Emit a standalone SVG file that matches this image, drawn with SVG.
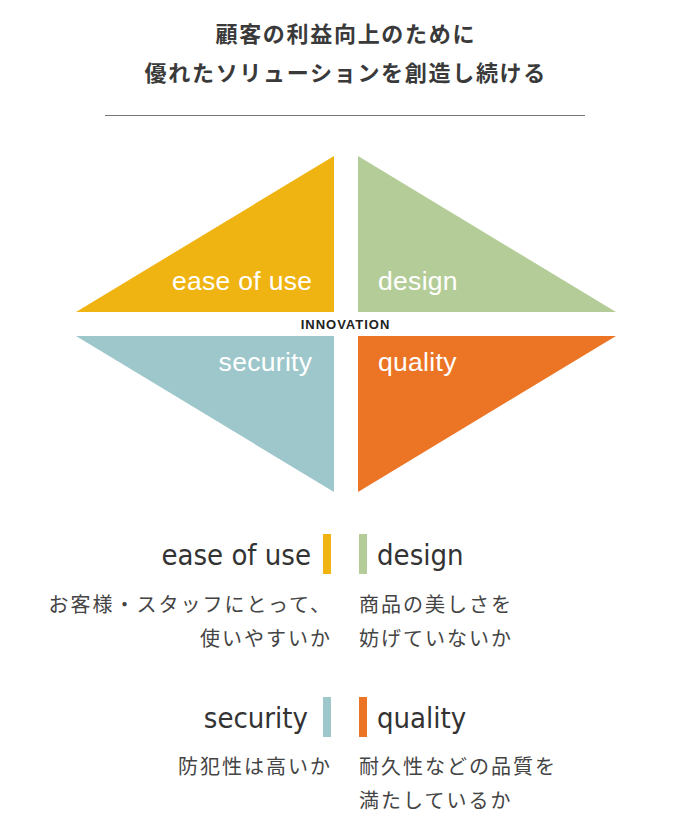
<svg xmlns="http://www.w3.org/2000/svg" width="690" height="837" viewBox="0 0 690 837">
<style>
.title{font-family:"Noto Sans CJK JP","Noto Sans",sans-serif;font-size:22px;font-weight:bold;fill:#3a3a3a;text-anchor:middle;letter-spacing:1.7px}
.tri{font-family:"Liberation Sans",Arial,sans-serif;font-size:26.5px;fill:#fff;letter-spacing:0.3px}
.inn{font-family:"Liberation Sans",Arial,sans-serif;font-size:13px;font-weight:bold;fill:#222;text-anchor:middle;letter-spacing:1px}
.head{font-family:"DejaVu Sans Condensed","Open Sans",sans-serif;font-size:29px;fill:#333}
.desc{font-family:"Noto Sans CJK JP","Noto Sans",sans-serif;font-size:20px;fill:#444;letter-spacing:2px}
.r{text-anchor:end}
</style>
<rect width="690" height="837" fill="#fff"/>
<g id="title">
<text class="title" x="345.8" y="42">顧客の利益向上のために</text>
<text class="title" x="345.8" y="81">優れたソリューションを創造し続ける</text>
<line x1="105" y1="115.5" x2="585" y2="115.5" stroke="#777" stroke-width="1"/>
</g>
<g id="ease-tri">
<polygon points="76,312 334,156 334,312" fill="#F0B412"/>
<text class="tri r" x="312.3" y="290">ease of use</text>
</g>
<g id="design-tri">
<polygon points="358,156 616,312 358,312" fill="#B4CD98"/>
<text class="tri" x="378" y="290">design</text>
</g>
<g id="security-tri">
<polygon points="76,336 334,336 334,492" fill="#9EC7CB"/>
<text class="tri r" x="312.3" y="371">security</text>
</g>
<g id="quality-tri">
<polygon points="358,336 616,336 358,492" fill="#EB7425"/>
<text class="tri" x="378" y="371">quality</text>
</g>
<g id="innovation">
<text class="inn" x="345.5" y="329">INNOVATION</text>
</g>
<g id="ease">
<text class="head r" x="311" y="565">ease of use</text>
<rect x="323" y="534" width="8" height="40" fill="#F0B412"/>
<text class="desc r" x="332" y="612">お客様・スタッフにとって、</text>
<text class="desc r" x="332" y="646">使いやすいか</text>
</g>
<g id="design">
<rect x="359" y="534" width="8" height="40" fill="#B4CD98"/>
<text class="head" x="377" y="565">design</text>
<text class="desc" x="359" y="612">商品の美しさを</text>
<text class="desc" x="359" y="646">妨げていないか</text>
</g>
<g id="security">
<text class="head r" x="308" y="728">security</text>
<rect x="323" y="697" width="8" height="40" fill="#9EC7CB"/>
<text class="desc r" x="332" y="774">防犯性は高いか</text>
</g>
<g id="quality">
<rect x="359" y="697" width="8" height="40" fill="#EB7425"/>
<text class="head" x="377" y="728">quality</text>
<text class="desc" x="359" y="774">耐久性などの品質を</text>
<text class="desc" x="359" y="808">満たしているか</text>
</g>
<g id="connectors"/>
</svg>
